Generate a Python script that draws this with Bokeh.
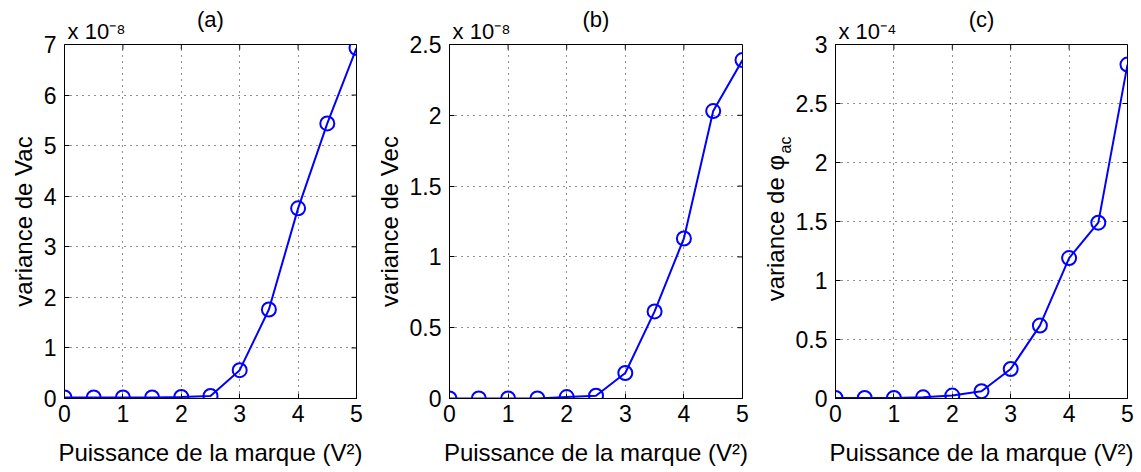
import math
from bokeh.plotting import figure
from bokeh.layouts import row
from bokeh.models import Range1d, FixedTicker, CustomJSTickFormatter, LinearAxis
from bokeh.embed import file_html
from bokeh.resources import INLINE

# ---------------- data ----------------
power = [0, 0.5, 1, 1.5, 2, 2.5, 3, 3.5, 4, 4.5, 5]                       # V^2
var_vac = [0.02, 0.02, 0.02, 0.02, 0.03, 0.05, 0.56, 1.76, 3.76, 5.44, 6.93]   # x 1e-8
var_vec = [0.0, 0.0, 0.0, 0.0, 0.01, 0.02, 0.18, 0.615, 1.13, 2.03, 2.39]     # x 1e-8
var_phi = [0.005, 0.005, 0.005, 0.01, 0.025, 0.062, 0.25, 0.618, 1.19, 1.49, 2.83]  # x 1e-4

x_ticks = [0, 1, 2, 3, 4, 5]
y_ticks_a = [0, 1, 2, 3, 4, 5, 6, 7]
y_ticks_b = [0, 0.5, 1, 1.5, 2, 2.5]
y_ticks_c = [0, 0.5, 1, 1.5, 2, 2.5, 3]

titles = ["(a)", "(b)", "(c)"]
exponents = ["x 10\u207b\u2078", "x 10\u207b\u2078", "x 10\u207b\u2074"]
xlabel = "Puissance de la marque (V\u00b2)"
ylabels = ["variance de Vac", "variance de Vec", "variance de \u03c6\u00a0\u00a0"]
ysub_c = "ac"

FONT = "Liberation Sans"
FS = "23px"
FS_LABEL = "24px"
BLUE = "#0000ff"
H = 472
TOP = 44
FRAME_H = 354
TICK = 5


def text_axis(ticks, labels, size, standoff, orientation="horizontal"):
    return LinearAxis(ticker=FixedTicker(ticks=ticks),
                      formatter=CustomJSTickFormatter(args=dict(t=ticks, l=labels),
                                                      code="return l[t.indexOf(tick)] ?? '';"),
                      major_tick_in=0, major_tick_out=0, minor_tick_line_color=None,
                      major_tick_line_color=None, axis_line_color=None,
                      major_label_standoff=standoff, major_label_text_font=FONT,
                      major_label_text_font_size=size, major_label_text_color="black",
                      major_label_orientation=orientation)


def make_panel(width, left, right, ys, yticks, ylabel, title, expo):
    ymax = yticks[-1]
    p = figure(width=width, height=H, x_range=Range1d(0, 5), y_range=Range1d(0, ymax),
               output_backend="svg", toolbar_location=None, title=None,
               min_border_left=left, min_border_right=right,
               min_border_top=TOP, min_border_bottom=H - TOP - FRAME_H)
    p.outline_line_color = "black"
    p.outline_line_width = 1
    p.background_fill_color = "white"
    p.border_fill_color = "white"

    fmt = CustomJSTickFormatter(code="return tick.toString();")

    for ax, ticks in ((p.xaxis[0], x_ticks), (p.yaxis[0], yticks)):
        ax.ticker = FixedTicker(ticks=ticks)
        ax.formatter = fmt
        ax.major_tick_in = TICK
        ax.major_tick_out = 0
        ax.minor_tick_line_color = None
        ax.axis_line_color = "black"
        ax.major_tick_line_color = "black"
        ax.major_label_text_font = FONT
        ax.major_label_text_font_size = FS
        ax.major_label_text_color = "black"
        ax.axis_label_text_font = FONT
        ax.axis_label_text_font_size = FS_LABEL
        ax.axis_label_text_font_style = "normal"
        ax.axis_label_text_color = "black"
    p.xaxis.major_label_standoff = 6
    p.yaxis.major_label_standoff = 8
    p.xaxis.axis_label = xlabel
    p.xaxis.axis_label_standoff = 14
    p.yaxis.axis_label = ylabel
    p.yaxis.axis_label_standoff = 4

    # exponent (nearest the frame) and panel title, carried by label-only axes
    frame_w = width - left - right
    exp_pos = 32 / frame_w * 5
    p.add_layout(text_axis([exp_pos], [expo], "22px", 1), "above")
    p.add_layout(text_axis([2.5], [title], "22px", -16), "above")

    p.xgrid.ticker = FixedTicker(ticks=x_ticks)
    p.ygrid.ticker = FixedTicker(ticks=yticks)
    for g in (p.xgrid[0], p.ygrid[0]):
        g.grid_line_color = "#222222"
        g.grid_line_dash = "1 5"
        g.grid_line_width = 1

    # mirrored inward ticks on the top and right edges of the box
    dx = TICK / frame_w * 5
    dy = TICK / FRAME_H * ymax
    p.segment(x0=[5] * len(yticks), y0=yticks, x1=[5 - dx] * len(yticks), y1=yticks,
              line_color="black", line_width=1)
    p.segment(x0=x_ticks, y0=[ymax] * len(x_ticks), x1=x_ticks,
              y1=[ymax - dy] * len(x_ticks), line_color="black", line_width=1)

    p.line(power, ys, line_color=BLUE, line_width=2)
    p.scatter(power, ys, marker="circle", size=14, fill_color=None,
              line_color=BLUE, line_width=2)
    return p


pa = make_panel(370, 64, 14, var_vac, y_ticks_a, ylabels[0], titles[0], exponents[0])
pb = make_panel(385, 79, 13, var_vec, y_ticks_b, ylabels[1], titles[1], exponents[1])
pc = make_panel(385, 80, 13, var_phi, y_ticks_c, ylabels[2], titles[2], exponents[2])

# panel (c): subscript "ac" of phi, as a rotated label-only axis pulled back
# over the axis-label area (the rotated label ends, at its top, at its tick)
ymax_c = y_ticks_c[-1]
px_per_unit = FRAME_H / ymax_c
y_sub_end = ymax_c - 92 / px_per_unit
pc.add_layout(text_axis([y_sub_end], [ysub_c], "16px", -27, math.pi / 2), "left")

layout = row(pa, pb, pc)
open("out.html", "w").write(file_html(layout, INLINE))
